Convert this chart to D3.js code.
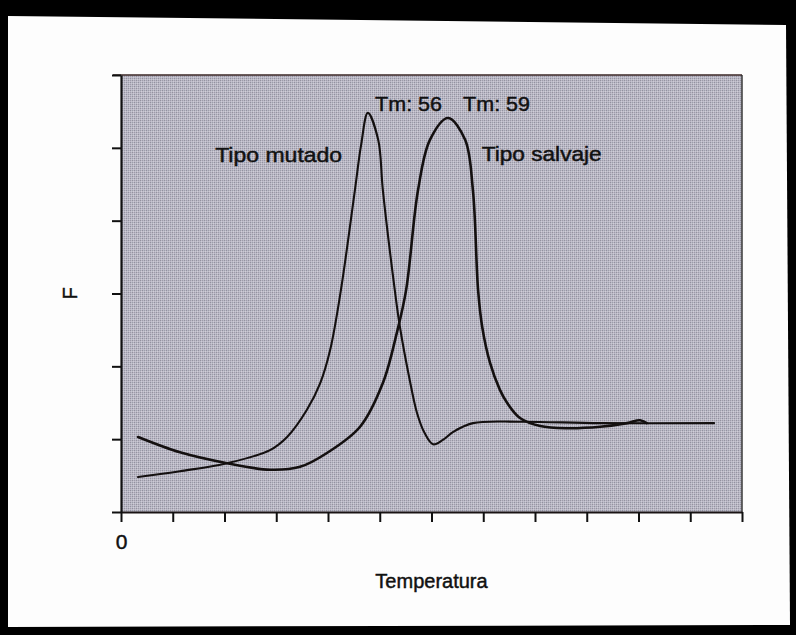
<!DOCTYPE html>
<html>
<head>
<meta charset="utf-8">
<script src="https://cdn.jsdelivr.net/npm/d3@7"></script>
<style>
  html, body { margin: 0; padding: 0; background: #000; }
  svg { display: block; }
  text { font-family: "Liberation Sans", Arial, Helvetica, sans-serif; fill: #111; stroke: #111; stroke-width: 0.45px; }
</style>
</head>
<body>
<svg id="chart" width="796" height="635"></svg>
<script>
// Melting curves (temperature index vs. fluorescence F)
const tempTicks = [0, 1, 2, 3, 4, 5, 6, 7, 8, 9, 10, 11, 12];
const fTicks = [0, 1, 2, 3, 4, 5, 6];
const tempTickLabels = ["0"];

// Mutant protein (Tm 56)
const mutado = [
  [0.33, 0.48], [1.14, 0.56], [2.05, 0.67], [2.88, 0.85], [3.21, 1.03],
  [3.59, 1.40], [3.85, 1.77], [4.04, 2.22], [4.25, 3.05], [4.52, 4.42],
  [4.64, 5.04], [4.77, 5.48], [4.97, 5.11], [5.06, 4.42], [5.29, 3.05],
  [5.39, 2.54], [5.58, 1.81], [5.72, 1.36], [5.87, 1.08], [6.03, 0.93],
  [6.22, 0.99], [6.42, 1.10], [6.80, 1.22], [7.71, 1.24], [9.26, 1.22],
  [11.46, 1.22]
];

// Wild type protein (Tm 59)
const salvaje = [
  [0.33, 1.03], [1.14, 0.82], [2.05, 0.67], [2.88, 0.58], [3.46, 0.62],
  [3.98, 0.81], [4.62, 1.17], [5.06, 1.77], [5.33, 2.46], [5.51, 3.05],
  [5.74, 4.42], [5.97, 5.11], [6.32, 5.41], [6.65, 5.11], [6.80, 4.42],
  [6.90, 3.05], [6.98, 2.54], [7.13, 2.05], [7.32, 1.68], [7.46, 1.50],
  [7.71, 1.29], [8.10, 1.18], [8.62, 1.15], [9.26, 1.17], [9.78, 1.22],
  [10.03, 1.26], [10.16, 1.22]
];

const labels = [
  { text: "Tm: 56", t: 4.91, f: 5.51, len: 67 },
  { text: "Tm: 59", t: 6.61, f: 5.51, len: 67 },
  { text: "Tipo mutado", t: 1.82, f: 4.81, len: 127 },
  { text: "Tipo salvaje", t: 6.97, f: 4.82, len: 120 }
];

const svg = d3.select("#chart");

// scanned page
svg.append("polygon")
  .attr("points", "8,16 786,25 790,625 8,627")
  .attr("fill", "#fdfdfd");

const x = d3.scaleLinear().domain([0, 12]).range([121, 742]);
const y = d3.scaleLinear().domain([0, 6]).range([512, 75]);

// halftone screen for the plot background
const defs = svg.append("defs");
const pat = defs.append("pattern")
  .attr("id", "screen").attr("patternUnits", "userSpaceOnUse")
  .attr("width", 4).attr("height", 4);
pat.append("rect").attr("width", 4).attr("height", 4).attr("fill", "#b9b7c4");
[[0,0,"#94929f"],[2,0,"#9e9caa"],[1,1,"#cdcbd6"],[3,1,"#c6c4d0"],
 [0,2,"#9ca0ab"],[2,2,"#92909f"],[1,3,"#d2ced8"],[3,3,"#c8cad4"]]
  .forEach(([px, py, c]) => pat.append("rect")
    .attr("x", px).attr("y", py).attr("width", 1).attr("height", 1).attr("fill", c));

svg.append("rect")
  .attr("x", x(0)).attr("y", y(6))
  .attr("width", x(12) - x(0)).attr("height", y(0) - y(6))
  .attr("fill", "url(#screen)");

// top and right frame lines
svg.append("line")
  .attr("x1", x(0) - 8).attr("x2", x(12)).attr("y1", y(6)).attr("y2", y(6))
  .attr("stroke", "#3a2624").attr("stroke-width", 1.6);
svg.append("line")
  .attr("x1", x(12)).attr("x2", x(12)).attr("y1", y(6)).attr("y2", y(0))
  .attr("stroke", "#2a2a2a").attr("stroke-width", 1.4);

// axes
const xAxis = d3.axisBottom(x)
  .tickValues(tempTicks)
  .tickSize(10).tickSizeOuter(0).tickPadding(12)
  .tickFormat((d, i) => tempTickLabels[i] || "");
const gx = svg.append("g").attr("transform", `translate(0,${y(0)})`).call(xAxis);
gx.select(".domain").attr("stroke", "#1a1414").attr("stroke-width", 2);
gx.selectAll(".tick line").attr("stroke", "#111").attr("stroke-width", 2);
gx.selectAll(".tick text").attr("font-size", 21).attr("fill", "#111")
  .style("font-family", "'Liberation Sans', Arial, sans-serif");

const yAxis = d3.axisLeft(y)
  .tickValues(fTicks).tickSize(9).tickSizeOuter(0).tickFormat("");
const gy = svg.append("g").attr("transform", `translate(${x(0)},0)`).call(yAxis);
gy.select(".domain").attr("stroke", "#111").attr("stroke-width", 2.2);
gy.selectAll(".tick line").attr("stroke", "#111").attr("stroke-width", 2);

// curves
const line = d3.line()
  .x(d => x(d[0])).y(d => y(d[1]))
  .curve(d3.curveCatmullRom.alpha(0.5));

svg.append("path").datum(mutado)
  .attr("d", line).attr("fill", "none")
  .attr("stroke", "#141010").attr("stroke-width", 2.1)
  .attr("stroke-linejoin", "round").attr("stroke-linecap", "round");

svg.append("path").datum(salvaje)
  .attr("d", line).attr("fill", "none")
  .attr("stroke", "#141010").attr("stroke-width", 2.6)
  .attr("stroke-linejoin", "round").attr("stroke-linecap", "round");

// curve annotations
svg.selectAll("text.ann").data(labels).join("text")
  .attr("class", "ann")
  .attr("x", d => x(d.t)).attr("y", d => y(d.f))
  .attr("font-size", 20)
  .attr("textLength", d => d.len).attr("lengthAdjust", "spacingAndGlyphs")
  .text(d => d.text);

// axis titles
svg.append("text")
  .attr("x", (x(0) + x(12)) / 2).attr("y", 588)
  .attr("text-anchor", "middle").attr("font-size", 20)
  .text("Temperatura");

svg.append("text")
  .attr("transform", `translate(77,${y(3)}) rotate(-90)`)
  .attr("text-anchor", "middle").attr("font-size", 20)
  .text("F");
</script>
</body>
</html>
